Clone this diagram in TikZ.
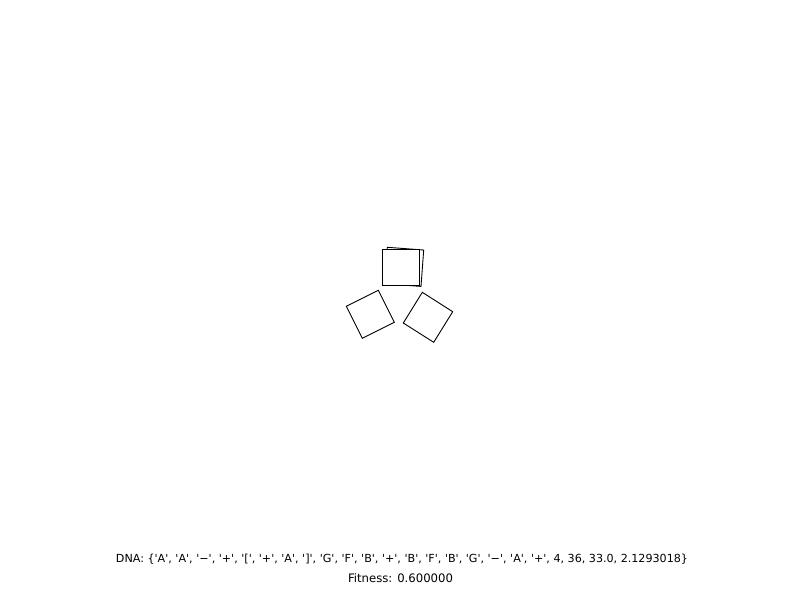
\documentclass[tikz,border=0pt]{standalone}
\usepackage{fontspec}
\newfontfamily\uifont{DejaVu Sans}
\newcommand{\qq}[1]{\textquotesingle#1\textquotesingle}
\tikzset{
  sq/.style={draw=black, line width=0.9pt, fill=white, line join=miter},
  lbl/.style={inner sep=0pt, anchor=center, font=\uifont}
}
\begin{document}
\begin{tikzpicture}[x=1pt,y=-1pt]
\path[use as bounding box, fill=white] (0,0) rectangle (800,600);
% back square (slightly rotated)
\draw[sq] (387.3,247.3) -- (423.7,250) -- (421,286.4) -- (384.6,283.7) -- cycle;
% front square
\draw[sq] (382.3,249.3) rectangle (419,285.7);
% left square
\draw[sq] (378.3,290.3) -- (394.3,322.3) -- (362.3,338.3) -- (346.3,306.3) -- cycle;
% right square
\draw[sq] (422.3,292.3) -- (452.7,311.7) -- (433.7,342.3) -- (403.3,323) -- cycle;
\node[lbl] (dna) at (402,559.5) {\resizebox{572pt}{!}{DNA: \{\qq{A}, \qq{A}, \qq{−}, \qq{+}, \qq{[}, \qq{+}, \qq{A}, \qq{]}, \qq{G}, \qq{F}, \qq{B}, \qq{+}, \qq{B}, \qq{F}, \qq{B}, \qq{G}, \qq{−}, \qq{A}, \qq{+}, 4, 36, 33.0, 2.1293018\}}};
\node[lbl] (fit) at (400.5,578.5) {\resizebox{105pt}{!}{Fitness: 0.600000}};
\end{tikzpicture}
\end{document}
